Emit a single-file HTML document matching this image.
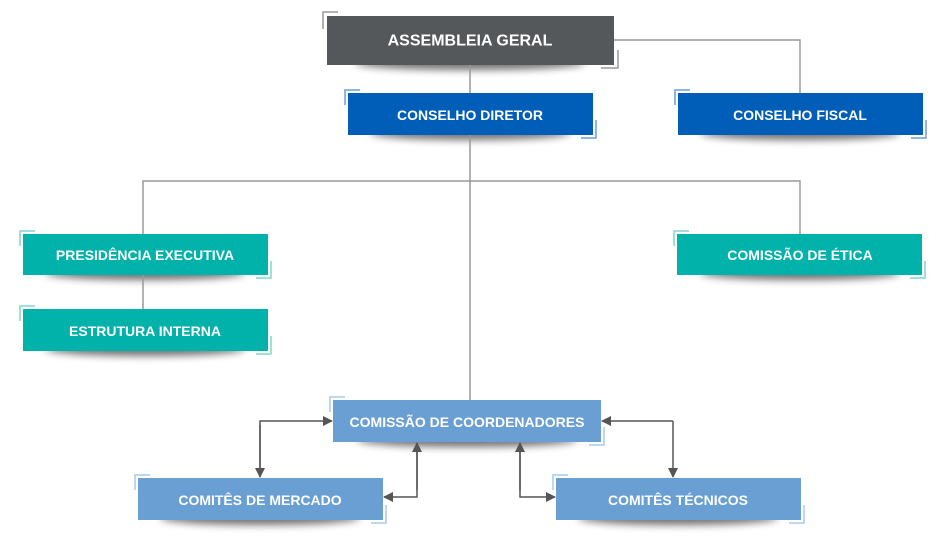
<!DOCTYPE html>
<html><head><meta charset="utf-8"><style>
html,body{margin:0;padding:0;background:#fff;width:940px;height:540px;overflow:hidden}
svg text{font-family:"Liberation Sans",sans-serif;font-weight:bold;fill:#fff;text-anchor:middle;dominant-baseline:central}
</style></head><body>
<svg width="940" height="540" viewBox="0 0 940 540" xmlns="http://www.w3.org/2000/svg">
<defs>
<filter id="bl" x="-20%" y="-100%" width="140%" height="300%"><feGaussianBlur stdDeviation="4"/></filter>
<marker id="ar" markerWidth="10" markerHeight="10" refX="9" refY="5" orient="auto" markerUnits="userSpaceOnUse">
<path d="M0,0 L10,5 L0,10 Z" fill="#555"/>
</marker>
</defs>
<!-- shadows -->
<g fill="#000" opacity="0.55" filter="url(#bl)">
<ellipse cx="470" cy="63" rx="115" ry="7"/>
<ellipse cx="470" cy="133" rx="100" ry="7"/>
<ellipse cx="800" cy="133" rx="100" ry="7"/>
<ellipse cx="145" cy="273" rx="100" ry="7"/>
<ellipse cx="800" cy="273" rx="100" ry="7"/>
<ellipse cx="145" cy="349" rx="100" ry="7"/>
<ellipse cx="467" cy="440" rx="110" ry="7"/>
<ellipse cx="260" cy="518" rx="100" ry="7"/>
<ellipse cx="678" cy="518" rx="100" ry="7"/>
</g>
<!-- connectors -->
<g stroke="#999" stroke-width="1.5" fill="none">
<path d="M470 65 V400"/>
<path d="M614 40 H800 V93"/>
<path d="M143 234 V181 H800 V234"/>
<path d="M143 275 V309"/>
</g>
<g stroke="#555" stroke-width="1.5" fill="none">
<path d="M260 477 V421 H332" marker-end="url(#ar)"/>
<path d="M260 425 V477" marker-end="url(#ar)"/>
<path d="M417 443 V497 H384" marker-end="url(#ar)"/>
<path d="M417 490 V443" marker-end="url(#ar)"/>
<path d="M520 443 V497 H555" marker-end="url(#ar)"/>
<path d="M520 490 V443" marker-end="url(#ar)"/>
<path d="M673 421 H602" marker-end="url(#ar)"/>
<path d="M673 421 V477" marker-end="url(#ar)"/>
</g>
<!-- boxes -->
<g>
<rect x="327" y="16" width="287" height="49" fill="#55585b"/>
<path d="M323 29 V12 H338" stroke="#999" stroke-width="1.5" fill="none"/>
<path d="M618 50 V68 H601" stroke="#999" stroke-width="1.5" fill="none"/>
<text x="470" y="41" font-size="16">ASSEMBLEIA GERAL</text>

<rect x="348" y="93" width="245" height="42" fill="#005eb8"/>
<path d="M345 105 V90 H360" stroke="#6a9fd4" stroke-width="1.5" fill="none"/>
<path d="M596 120 V138 H581" stroke="#6a9fd4" stroke-width="1.5" fill="none"/>
<text x="470" y="115" font-size="14">CONSELHO DIRETOR</text>

<rect x="678" y="93" width="245" height="42" fill="#005eb8"/>
<path d="M675 105 V90 H690" stroke="#6a9fd4" stroke-width="1.5" fill="none"/>
<path d="M926 120 V138 H911" stroke="#6a9fd4" stroke-width="1.5" fill="none"/>
<text x="800" y="115" font-size="14">CONSELHO FISCAL</text>

<rect x="23" y="234" width="245" height="41" fill="#00b2a9"/>
<path d="M20 246 V231 H35" stroke="#7fd6d0" stroke-width="1.5" fill="none"/>
<path d="M271 261 V278 H256" stroke="#7fd6d0" stroke-width="1.5" fill="none"/>
<text x="145" y="255" font-size="14">PRESIDÊNCIA EXECUTIVA</text>

<rect x="23" y="309" width="245" height="42" fill="#00b2a9"/>
<path d="M20 321 V306 H35" stroke="#7fd6d0" stroke-width="1.5" fill="none"/>
<path d="M271 336 V354 H256" stroke="#7fd6d0" stroke-width="1.5" fill="none"/>
<text x="145" y="331" font-size="14">ESTRUTURA INTERNA</text>

<rect x="677" y="234" width="245" height="41" fill="#00b2a9"/>
<path d="M674 246 V231 H689" stroke="#7fd6d0" stroke-width="1.5" fill="none"/>
<path d="M925 261 V278 H910" stroke="#7fd6d0" stroke-width="1.5" fill="none"/>
<text x="800" y="255" font-size="14">COMISSÃO DE ÉTICA</text>

<rect x="333" y="400" width="268" height="42" fill="#6a9fd4"/>
<path d="M330 412 V397 H345" stroke="#a9c8ea" stroke-width="1.5" fill="none"/>
<path d="M604 427 V445 H589" stroke="#a9c8ea" stroke-width="1.5" fill="none"/>
<text x="467" y="422" font-size="14">COMISSÃO DE COORDENADORES</text>

<rect x="138" y="478" width="245" height="42" fill="#6a9fd4"/>
<path d="M135 490 V475 H150" stroke="#a9c8ea" stroke-width="1.5" fill="none"/>
<path d="M386 505 V523 H371" stroke="#a9c8ea" stroke-width="1.5" fill="none"/>
<text x="260" y="500" font-size="14">COMITÊS DE MERCADO</text>

<rect x="556" y="478" width="245" height="42" fill="#6a9fd4"/>
<path d="M553 490 V475 H568" stroke="#a9c8ea" stroke-width="1.5" fill="none"/>
<path d="M804 505 V523 H789" stroke="#a9c8ea" stroke-width="1.5" fill="none"/>
<text x="678" y="500" font-size="14">COMITÊS TÉCNICOS</text>
</g>
</svg>
</body></html>
